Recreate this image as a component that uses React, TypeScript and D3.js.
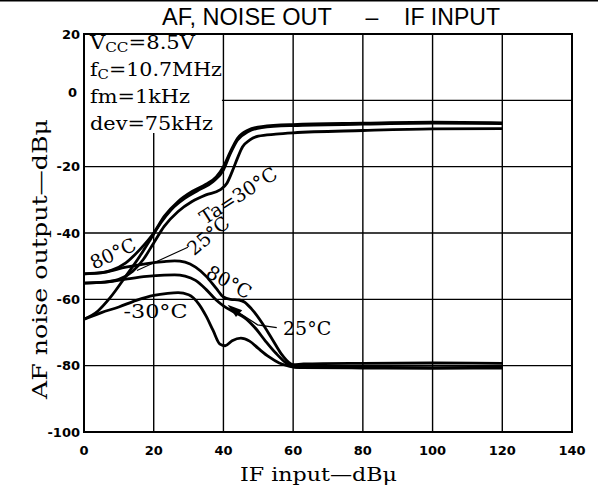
import React from "react";
import * as d3 from "d3";

const W = 598;
const H = 490;

const xTicks = [0, 20, 40, 60, 80, 100, 120, 140];
const yTicks = [20, 0, -20, -40, -60, -80, -100];
const xGrid = [20, 40, 60, 80, 100, 120];
const yGrid = [0, -20, -40, -60, -80];

// AF output curves
const af80: [number, number][] = [[0,-52.3],[5,-52],[8,-51.2],[12,-49],[16,-45],[20,-40],[23,-35],[27,-30.5],[31,-27.5],[35,-25.3],[38,-23],[40,-20],[42,-15.5],[44,-11.5],[47,-9],[51,-7.9],[60,-7.3],[80,-6.9],[100,-6.6],[120,-6.8]];
const af25: [number, number][] = [[0,-55.1],[6,-54.8],[10,-54],[14,-51.5],[17,-48],[20,-43],[23,-38],[27,-33.5],[31,-30.5],[35,-28.5],[39,-27],[41,-25],[42.5,-21.5],[44,-17.5],[45.5,-14],[47.5,-12],[50,-10.8],[55,-10.2],[60,-9.8],[80,-9.1],[100,-8.6],[120,-8.5]];
const afM30: [number, number][] = [[0,-66],[4,-63.5],[7.5,-59.5],[12,-53],[16,-47],[19,-42],[22,-37],[25,-33],[29,-29.5],[33,-27],[37,-24.5],[40,-21],[42,-16],[44,-12],[47,-9.5],[51,-8.2],[60,-7.6],[80,-7.2],[100,-6.9],[120,-7]];
// Noise output curves
const noise80: [number, number][] = [[0,-52.3],[6,-51.8],[12,-50.3],[18,-49.2],[23,-48.6],[26,-48.4],[29,-48.8],[32,-50.3],[35,-53],[38,-56.8],[40,-59.3],[42,-60],[44.5,-60.2],[46,-60.8],[48,-62.8],[51,-67],[54,-72],[57,-77],[60,-79.7],[63,-79.5],[80,-79.3],[100,-79.2],[120,-79.3]];
const noise25: [number, number][] = [[0,-55.1],[6,-54.8],[12,-53.9],[18,-53.1],[23,-52.7],[26,-52.6],[29,-53],[32,-54.3],[35,-57],[38,-60.3],[40,-62],[43,-63.8],[46,-65.5],[49,-68.5],[52,-72.5],[55,-76.2],[58,-79.2],[61,-80.4],[80,-80.5],[100,-80.6],[120,-80.5]];
const noiseM30: [number, number][] = [[0,-66],[5,-64],[10,-62.3],[15,-60.3],[20,-58.8],[24,-58.2],[27,-58],[30,-58.6],[33,-61.5],[35,-65],[37,-69.3],[39,-73.5],[40.5,-74],[42.5,-72.5],[45,-71.7],[47.5,-72.6],[50,-74.8],[53,-77.3],[56,-79.2],[59,-80.2],[62,-80.6],[80,-80.7],[100,-80.8],[120,-80.7]];

const series = [af80, af25, afM30, noise80, noise25, noiseM30];

const condLines = ["V|CC|=8.5V", "f|C|=10.7MHz", "fm=1kHz", "dev=75kHz"];
const condWidths = [105, 132, 100, 123];

export default function App() {
  const x = d3.scaleLinear().domain([0, 140]).range([84, 572]);
  const y = d3.scaleLinear().domain([-100, 20]).range([432, 34]);
  const line = d3
    .line<[number, number]>()
    .x((d) => x(d[0]))
    .y((d) => y(d[1]))
    .curve(d3.curveMonotoneX);

  const serif = "'DejaVu Serif', 'Liberation Serif', serif";
  const sans = "'DejaVu Sans', 'Liberation Sans', sans-serif";

  const label = (
    text: string,
    dx: number,
    dy: number,
    rot: number,
    len?: number
  ) => (
    <text
      transform={`translate(${x(dx)},${y(dy)}) rotate(${rot})`}
      textAnchor="middle"
      dominantBaseline="central"
      fontFamily={serif}
      fontSize={19}
      fill="#000"
      {...(len ? { textLength: len, lengthAdjust: "spacingAndGlyphs" } : {})}
    >
      {text}
    </text>
  );

  return (
    <svg width={W} height={H} style={{ position: "absolute", left: 0, top: 0, background: "#fff" }}>
      <rect x={0} y={0} width={W} height={H} fill="#fff" />
      <line x1={0} x2={W} y1={0.8} y2={0.8} stroke="#000" strokeWidth={1.6} />
      {/* title */}
      <text x={162} y={25} fontFamily="'Liberation Sans', Arial, sans-serif" fontSize={23} textLength={170} lengthAdjust="spacingAndGlyphs">AF, NOISE OUT</text>
      <text x={372} y={25} textAnchor="middle" fontFamily="'Liberation Sans', Arial, sans-serif" fontSize={23}>–</text>
      <text x={404} y={25} fontFamily="'Liberation Sans', Arial, sans-serif" fontSize={23} textLength={96} lengthAdjust="spacingAndGlyphs">IF INPUT</text>

      {/* grid */}
      {xGrid.map((t) => (
        <line key={"gx" + t} x1={x(t)} x2={x(t)} y1={y(20)} y2={y(-100)} stroke="#000" strokeWidth={1.4} />
      ))}
      {yGrid.map((t) => (
        <line key={"gy" + t} x1={x(0)} x2={x(140)} y1={y(t)} y2={y(t)} stroke="#000" strokeWidth={1.4} />
      ))}
      <rect x={x(0)} y={y(20)} width={x(140) - x(0)} height={y(-100) - y(20)} fill="none" stroke="#000" strokeWidth={2} />

      {/* condition box */}
      <rect x={x(0) + 1} y={y(20) + 1} width={x(40) - x(0) - 2.5} height={98} fill="#fff" />
      {condLines.map((s, i) => {
        const parts = s.split("|");
        return (
          <text
            key={s}
            x={x(0) + 6}
            y={49 + i * 27}
            fontFamily={serif}
            fontSize={18}
            textLength={condWidths[i]}
            lengthAdjust="spacingAndGlyphs"
          >
            {parts.length === 3 ? (
              <>
                <tspan>{parts[0]}</tspan>
                <tspan fontSize={13} dy={3}>{parts[1]}</tspan>
                <tspan dy={-3}>{parts[2]}</tspan>
              </>
            ) : (
              s
            )}
          </text>
        );
      })}

      {/* curves */}
      {series.map((s, i) => (
        <path key={i} d={line(s) || ""} fill="none" stroke="#000" strokeWidth={2.8} strokeLinejoin="round" />
      ))}

      {/* annotations */}
      {label("80°C", 8.3, -46.1, -25)}
      {label("25°C", 35.6, -40.7, -40)}
      <line x1={x(15.2)} y1={y(-51.3)} x2={x(29.8)} y2={y(-44.3)} stroke="#000" strokeWidth={1.1} />
      {label("Ta=30°C", 44.2, -28.6, -33, 88)}
      {label("80°C", 41.7, -54.7, 29)}
      {label("-30°C", 20.5, -63.6, 0, 64)}
      {label("25°C", 64, -68.7, 0)}
      <path
        d={`M${x(55.3)},${y(-68.5)} L${x(49.8)},${y(-67.7)} L${x(42.6)},${y(-62.8)}`}
        fill="none"
        stroke="#000"
        strokeWidth={1.3}
      />
      <path
        d={`M${x(41.2)},${y(-61.6)} L${x(45.4)},${y(-63.3)} L${x(43.6)},${y(-65.3)} Z`}
        fill="#000"
      />

      {/* y tick labels */}
      {yTicks.map((t) => (
        <text
          key={"yt" + t}
          x={t === 0 ? 77 : 80}
          y={t === 0 ? y(t) - 8 : y(t)}
          textAnchor="end"
          dominantBaseline="central"
          fontFamily={sans}
          fontWeight="bold"
          fontSize={13}
        >
          {t}
        </text>
      ))}
      {/* x tick labels */}
      {xTicks.map((t) => (
        <text
          key={"xt" + t}
          x={x(t)}
          y={455}
          textAnchor="middle"
          fontFamily={sans}
          fontWeight="bold"
          fontSize={13}
        >
          {t}
        </text>
      ))}

      {/* axis titles */}
      <text x={240} y={481} fontFamily={serif} fontSize={19} textLength={157} lengthAdjust="spacingAndGlyphs">
        IF  input—dBμ
      </text>
      <text
        transform={`translate(47,259) rotate(-90)`}
        textAnchor="middle"
        fontFamily={serif}
        fontSize={20}
        textLength={280}
        lengthAdjust="spacingAndGlyphs"
      >
        AF noise output—dBμ
      </text>
    </svg>
  );
}
